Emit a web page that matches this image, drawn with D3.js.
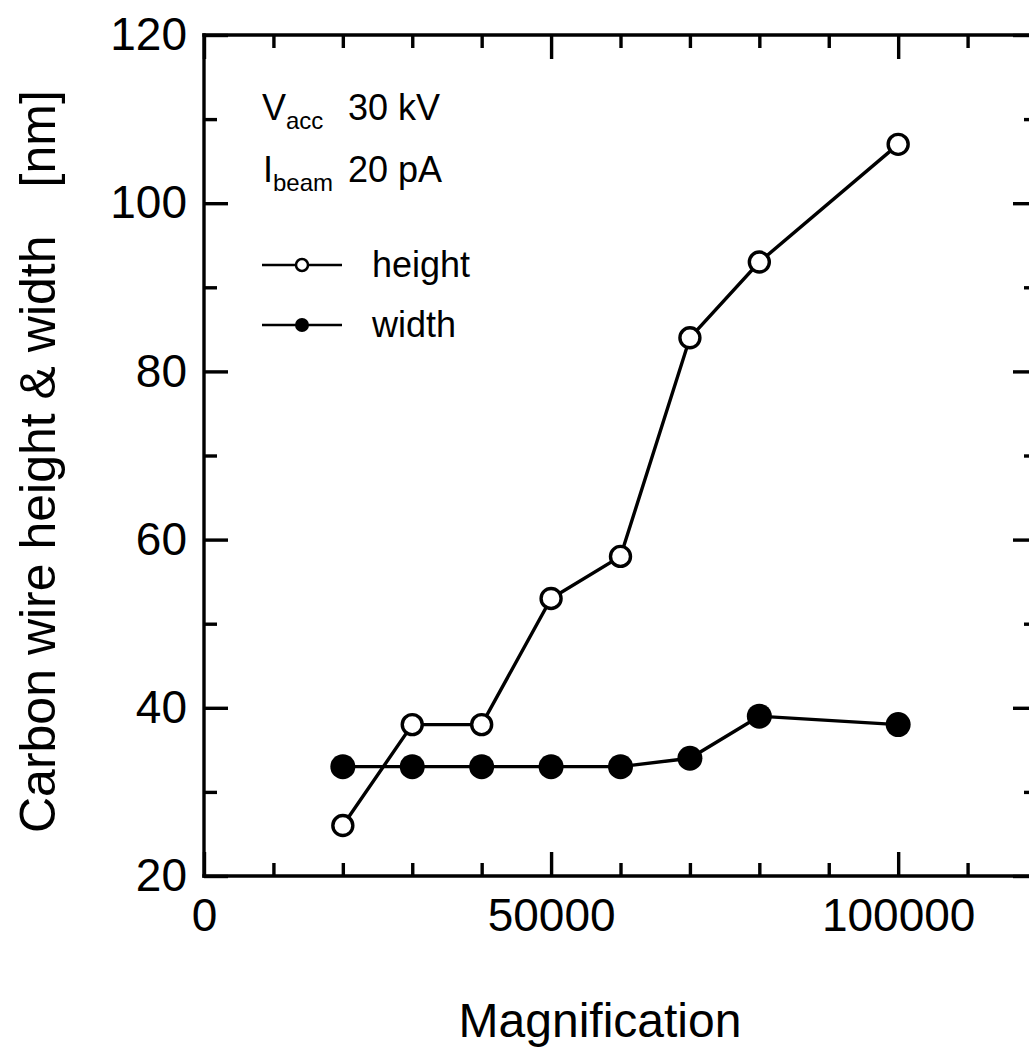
<!DOCTYPE html>
<html>
<head>
<meta charset="utf-8">
<script src="https://cdn.jsdelivr.net/npm/d3@7"></script>
<style>
    html, body { margin: 0; padding: 0; background: #fff; overflow: hidden; }
    svg { display: block; font-family: "Liberation Sans", Arial, sans-serif; }
    .axis path, .axis line { stroke: #000; stroke-width: 3.4; }
    .axis text { fill: #000; }
</style>
</head>
<body>
<div id="chart"></div>
<script>
'use strict';

// Values.
var magnification = [20000, 30000, 40000, 50000, 60000, 70000, 80000, 100000];
var heightNm      = [26, 38, 38, 53, 58, 84, 93, 107];
var widthNm       = [33, 33, 33, 33, 33, 34, 39, 38];

var xMajorTicks = [0, 50000, 100000];
var xMinorTicks = [10000, 20000, 30000, 40000, 60000, 70000, 80000, 90000, 110000];
var yMajorTicks = [20, 40, 60, 80, 100, 120];
var yMinorTicks = [30, 50, 70, 90, 110];

var chartWidth  = 1029,
    chartHeight = 1047,
    plotLeft    = 204,
    plotRight   = 1037,
    plotTop     = 35,
    plotBottom  = 876,
    majorLen    = 24,
    minorLen    = 13;

var svg = d3.select('#chart').append('svg')
    .attr('width', chartWidth)
    .attr('height', chartHeight);

var x = d3.scaleLinear().domain([0, 120000]).range([plotLeft, plotRight]);
var y = d3.scaleLinear().domain([20, 120]).range([plotBottom, plotTop]);

// Frame lines.
svg.append('g').attr('class', 'axis')
    .selectAll('line')
    .data([
        [plotLeft, plotTop, plotRight, plotTop],
        [plotLeft, plotBottom, plotRight, plotBottom],
        [plotLeft, plotTop, plotLeft, plotBottom],
        [plotRight, plotTop, plotRight, plotBottom]
    ])
    .enter().append('line')
    .attr('x1', function (d) { return d[0]; })
    .attr('y1', function (d) { return d[1]; })
    .attr('x2', function (d) { return d[2]; })
    .attr('y2', function (d) { return d[3]; })
    .attr('stroke-linecap', 'square');

function drawAxis(axis, transform, labels) {
    var g = svg.append('g')
        .attr('class', 'axis')
        .attr('transform', transform)
        .call(axis);
    g.select('.domain').remove();
    if (!labels) {
        g.selectAll('text').remove();
    }
    return g;
}

// Bottom axis (labelled).
drawAxis(d3.axisBottom(x).tickValues(xMajorTicks).tickSize(-majorLen).tickPadding(22)
    .tickFormat(d3.format('d')), 'translate(0,' + plotBottom + ')', true)
    .selectAll('text').style('font-size', '46px');
drawAxis(d3.axisBottom(x).tickValues(xMinorTicks).tickSize(-minorLen), 'translate(0,' + plotBottom + ')', false);

// Top axis.
drawAxis(d3.axisTop(x).tickValues(xMajorTicks).tickSize(-majorLen), 'translate(0,' + plotTop + ')', false);
drawAxis(d3.axisTop(x).tickValues(xMinorTicks).tickSize(-minorLen), 'translate(0,' + plotTop + ')', false);

// Left axis (labelled).
drawAxis(d3.axisLeft(y).tickValues(yMajorTicks).tickSize(-majorLen).tickPadding(17),
    'translate(' + plotLeft + ',0)', true)
    .selectAll('text').style('font-size', '46px');
drawAxis(d3.axisLeft(y).tickValues(yMinorTicks).tickSize(-minorLen), 'translate(' + plotLeft + ',0)', false);

// Right axis.
drawAxis(d3.axisRight(y).tickValues(yMajorTicks).tickSize(-majorLen), 'translate(' + plotRight + ',0)', false);
drawAxis(d3.axisRight(y).tickValues(yMinorTicks).tickSize(-minorLen), 'translate(' + plotRight + ',0)', false);

// Axis titles.
svg.append('text')
    .attr('x', 600)
    .attr('y', 1037)
    .attr('text-anchor', 'middle')
    .style('font-size', '48px')
    .text('Magnification');

var yTitle = svg.append('text')
    .attr('transform', 'translate(55,833) rotate(-90)')
    .attr('text-anchor', 'start')
    .style('font-size', '50px');
yTitle.append('tspan').text('Carbon wire height & width');
yTitle.append('tspan').attr('dx', 48).text('[nm]');

// Series.
var line = d3.line()
    .x(function (d, i) { return x(magnification[i]); })
    .y(function (d) { return y(d); });

svg.append('path')
    .datum(widthNm)
    .attr('d', line)
    .attr('fill', 'none')
    .attr('stroke', '#000')
    .attr('stroke-width', 3.4);

svg.append('path')
    .datum(heightNm)
    .attr('d', line)
    .attr('fill', 'none')
    .attr('stroke', '#000')
    .attr('stroke-width', 3.4);

svg.selectAll('.pt-width')
    .data(widthNm)
    .enter().append('circle')
    .attr('class', 'pt-width')
    .attr('cx', function (d, i) { return x(magnification[i]); })
    .attr('cy', function (d) { return y(d); })
    .attr('r', 12.5)
    .attr('fill', '#000');

svg.selectAll('.pt-height')
    .data(heightNm)
    .enter().append('circle')
    .attr('class', 'pt-height')
    .attr('cx', function (d, i) { return x(magnification[i]); })
    .attr('cy', function (d) { return y(d); })
    .attr('r', 10)
    .attr('fill', '#fff')
    .attr('stroke', '#000')
    .attr('stroke-width', 3.4);

// Conditions text.
var cond = svg.append('g').style('font-size', '36px');
var t1 = cond.append('text').attr('x', 262).attr('y', 120);
t1.append('tspan').text('V');
t1.append('tspan').attr('dy', 9).style('font-size', '24px').text('acc');
cond.append('text').attr('x', 348).attr('y', 120).text('30 kV');

var t2 = cond.append('text').attr('x', 263).attr('y', 182);
t2.append('tspan').text('I');
t2.append('tspan').attr('dy', 9).style('font-size', '24px').text('beam');
cond.append('text').attr('x', 348).attr('y', 182).text('20 pA');

// Legend.
var legend = [
    { label: 'height', y: 265, filled: false },
    { label: 'width',  y: 325, filled: true }
];

var lg = svg.selectAll('.legend')
    .data(legend)
    .enter().append('g')
    .attr('class', 'legend')
    .attr('transform', function (d) { return 'translate(0,' + d.y + ')'; });

lg.append('line')
    .attr('x1', 262).attr('x2', 342)
    .attr('stroke', '#000').attr('stroke-width', 2.5);

lg.append('circle')
    .attr('cx', 302)
    .attr('r', function (d) { return d.filled ? 7 : 6; })
    .attr('fill', function (d) { return d.filled ? '#000' : '#fff'; })
    .attr('stroke', '#000')
    .attr('stroke-width', function (d) { return d.filled ? 0 : 2.5; });

lg.append('text')
    .attr('x', 372)
    .attr('y', 12)
    .style('font-size', '36px')
    .text(function (d) { return d.label; });
</script>
</body>
</html>
